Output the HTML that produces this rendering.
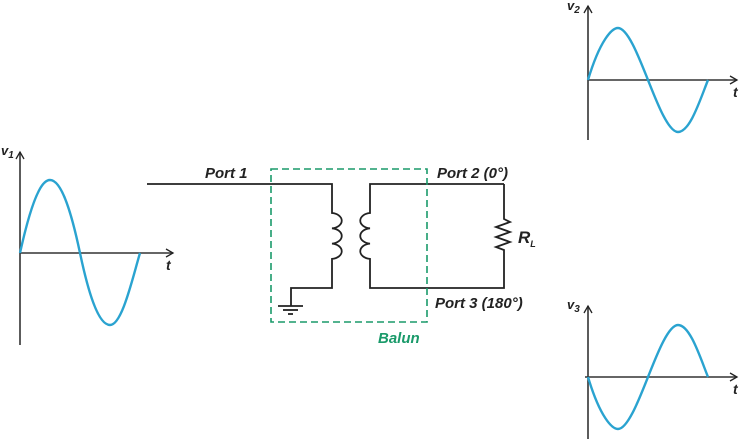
<!DOCTYPE html>
<html><head><style>body{margin:0;background:#fff}svg{display:block}text{font-family:"Liberation Sans",Arial,sans-serif;font-weight:bold;font-style:italic}</style></head>
<body>
<svg width="740" height="439" viewBox="0 0 740 439" xmlns="http://www.w3.org/2000/svg">
<defs><marker id="a" markerWidth="10" markerHeight="10" refX="8" refY="5" orient="auto" markerUnits="userSpaceOnUse"><path d="M1,1 L8,5 L1,9" fill="none" stroke="#222" stroke-width="1.3"/></marker></defs>
<g stroke="#333" stroke-width="1.6" fill="none">
<line x1="20" y1="345" x2="20" y2="152" marker-end="url(#a)"/>
<line x1="20" y1="253" x2="173" y2="253" marker-end="url(#a)"/>
<line x1="588" y1="140" x2="588" y2="6" marker-end="url(#a)"/>
<line x1="588" y1="80" x2="737" y2="80" marker-end="url(#a)"/>
<line x1="588" y1="439" x2="588" y2="306" marker-end="url(#a)"/>
<line x1="585" y1="377" x2="737" y2="377" marker-end="url(#a)"/>
</g>
<g stroke="#2aa3d0" stroke-width="2.4" fill="none">
<path d="M20,253 C35,185 45,180 50,180 C62,180 72,215 80,253 C88,291 98,325 110,325 C122,325 132,280 140,253"/>
<path d="M588,80 C600,40 612,28 618,28 C628,28 640,60 648,80 C656,100 668,132 678,132 C690,132 700,100 708,80"/>
<path d="M588,377 C600,417 612,429 618,429 C628,429 640,397 648,377 C656,357 668,325 678,325 C690,325 700,357 708,377"/>
</g>
<g stroke="#222" stroke-width="1.8" fill="none">
<path d="M147,184 H332 V213 a11,7.7 0 0 1 0,15.3 a11,7.7 0 0 1 0,15.3 a11,7.7 0 0 1 0,15.3 V288 H291 V306"/>
<line x1="278" y1="306" x2="303" y2="306"/>
<line x1="283" y1="310" x2="298" y2="310"/>
<line x1="288" y1="314" x2="293" y2="314"/>
<path d="M504,184 H370 V213 a11,7.7 0 0 0 0,15.3 a11,7.7 0 0 0 0,15.3 a11,7.7 0 0 0 0,15.3 V288 H504 V250 L496,247 L510,242 L496,237 L510,232 L496,227 L510,222 L504,219 V184"/>
</g>
<rect x="271" y="169" width="156" height="153" fill="none" stroke="#1a9a6a" stroke-width="1.6" stroke-dasharray="7,4"/>
<g fill="#222" font-size="15">
<text x="205" y="178">Port 1</text>
<text x="437" y="178">Port 2 (0°)</text>
<text x="435" y="308">Port 3 (180°)</text>
<text x="518" y="243" font-size="17">R<tspan font-size="9" dy="4">L</tspan></text>
<text x="166" y="270" font-size="14">t</text>
<text x="733" y="97" font-size="14">t</text>
<text x="733" y="394" font-size="14">t</text>
<text x="1" y="155" font-size="13">v<tspan font-size="10" dy="3">1</tspan></text>
<text x="567" y="10" font-size="13">v<tspan font-size="10" dy="3">2</tspan></text>
<text x="567" y="309" font-size="13">v<tspan font-size="10" dy="3">3</tspan></text>
</g>
<text x="378" y="343" font-size="15" fill="#1a9a6a">Balun</text>
</svg>
</body></html>
